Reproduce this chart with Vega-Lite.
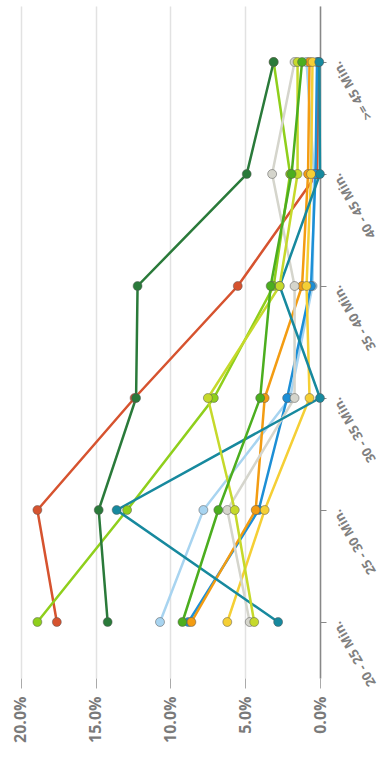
{
  "$schema": "https://vega.github.io/schema/vega-lite/v6.json",
  "width": 320,
  "height": 672,
  "autosize": "none",
  "padding": {"left": 0, "top": 6, "right": 65, "bottom": 88},
  "config": {"view": {"stroke": null}},
  "data": {"values": [
    {"s": "s01", "c": "20 - 25 Min.", "v": 0.176}, {"s": "s01", "c": "25 - 30 Min.", "v": 0.189}, {"s": "s01", "c": "30 - 35 Min.", "v": 0.124}, {"s": "s01", "c": "35 - 40 Min.", "v": 0.055}, {"s": "s01", "c": "40 - 45 Min.", "v": 0.002}, {"s": "s01", "c": ">= 45 Min.", "v": 0.001},
    {"s": "s02", "c": "20 - 25 Min.", "v": 0.189}, {"s": "s02", "c": "25 - 30 Min.", "v": 0.129}, {"s": "s02", "c": "30 - 35 Min.", "v": 0.071}, {"s": "s02", "c": "35 - 40 Min.", "v": 0.031}, {"s": "s02", "c": "40 - 45 Min.", "v": 0.020}, {"s": "s02", "c": ">= 45 Min.", "v": 0.031},
    {"s": "s03", "c": "20 - 25 Min.", "v": 0.107}, {"s": "s03", "c": "25 - 30 Min.", "v": 0.078}, {"s": "s03", "c": "30 - 35 Min.", "v": 0.020}, {"s": "s03", "c": "35 - 40 Min.", "v": 0.005}, {"s": "s03", "c": "40 - 45 Min.", "v": 0.004}, {"s": "s03", "c": ">= 45 Min.", "v": 0.009},
    {"s": "s04", "c": "20 - 25 Min.", "v": 0.088}, {"s": "s04", "c": "25 - 30 Min.", "v": 0.041}, {"s": "s04", "c": "30 - 35 Min.", "v": 0.022}, {"s": "s04", "c": "35 - 40 Min.", "v": 0.006}, {"s": "s04", "c": "40 - 45 Min.", "v": 0.003}, {"s": "s04", "c": ">= 45 Min.", "v": 0.002},
    {"s": "s05", "c": "20 - 25 Min.", "v": 0.086}, {"s": "s05", "c": "25 - 30 Min.", "v": 0.043}, {"s": "s05", "c": "30 - 35 Min.", "v": 0.037}, {"s": "s05", "c": "35 - 40 Min.", "v": 0.012}, {"s": "s05", "c": "40 - 45 Min.", "v": 0.008}, {"s": "s05", "c": ">= 45 Min.", "v": 0.007},
    {"s": "s06", "c": "20 - 25 Min.", "v": 0.062}, {"s": "s06", "c": "25 - 30 Min.", "v": 0.037}, {"s": "s06", "c": "30 - 35 Min.", "v": 0.007}, {"s": "s06", "c": "35 - 40 Min.", "v": 0.009}, {"s": "s06", "c": "40 - 45 Min.", "v": 0.006}, {"s": "s06", "c": ">= 45 Min.", "v": 0.005},
    {"s": "s07", "c": "20 - 25 Min.", "v": 0.047}, {"s": "s07", "c": "25 - 30 Min.", "v": 0.062}, {"s": "s07", "c": "30 - 35 Min.", "v": 0.017}, {"s": "s07", "c": "35 - 40 Min.", "v": 0.017}, {"s": "s07", "c": "40 - 45 Min.", "v": 0.032}, {"s": "s07", "c": ">= 45 Min.", "v": 0.017},
    {"s": "s08", "c": "20 - 25 Min.", "v": 0.028}, {"s": "s08", "c": "25 - 30 Min.", "v": 0.136}, {"s": "s08", "c": "30 - 35 Min.", "v": 0.000}, {"s": "s08", "c": "35 - 40 Min.", "v": 0.027}, {"s": "s08", "c": "40 - 45 Min.", "v": 0.000}, {"s": "s08", "c": ">= 45 Min.", "v": 0.0005},
    {"s": "s09", "c": "20 - 25 Min.", "v": 0.044}, {"s": "s09", "c": "25 - 30 Min.", "v": 0.057}, {"s": "s09", "c": "30 - 35 Min.", "v": 0.075}, {"s": "s09", "c": "35 - 40 Min.", "v": 0.027}, {"s": "s09", "c": "40 - 45 Min.", "v": 0.015}, {"s": "s09", "c": ">= 45 Min.", "v": 0.015},
    {"s": "s10", "c": "20 - 25 Min.", "v": 0.092}, {"s": "s10", "c": "25 - 30 Min.", "v": 0.068}, {"s": "s10", "c": "30 - 35 Min.", "v": 0.040}, {"s": "s10", "c": "35 - 40 Min.", "v": 0.033}, {"s": "s10", "c": "40 - 45 Min.", "v": 0.019}, {"s": "s10", "c": ">= 45 Min.", "v": 0.012},
    {"s": "s11", "c": "20 - 25 Min.", "v": 0.142}, {"s": "s11", "c": "25 - 30 Min.", "v": 0.148}, {"s": "s11", "c": "30 - 35 Min.", "v": 0.123}, {"s": "s11", "c": "35 - 40 Min.", "v": 0.122}, {"s": "s11", "c": "40 - 45 Min.", "v": 0.049}, {"s": "s11", "c": ">= 45 Min.", "v": 0.031}
  ]},
  "encoding": {
    "x": {
      "field": "v", "type": "quantitative",
      "scale": {"domain": [0, 0.214], "reverse": true, "nice": false},
      "axis": {
        "orient": "bottom", "title": null, "values": [0, 0.05, 0.1, 0.15, 0.2], "format": ".1%",
        "labelAngle": 270, "labelAlign": "right", "labelBaseline": "middle",
        "labelFont": "Open Sans", "labelFontSize": 16, "labelFontWeight": "bold", "labelColor": "#7a7a7a",
        "labelPadding": 8, "domain": false, "grid": true, "gridColor": "#e2e2e2", "gridWidth": 1.5,
        "tickColor": "#aaaaaa", "tickSize": 10
      }
    },
    "y": {
      "field": "c", "type": "ordinal",
      "sort": [">= 45 Min.", "40 - 45 Min.", "35 - 40 Min.", "30 - 35 Min.", "25 - 30 Min.", "20 - 25 Min."],
      "scale": {"type": "point", "padding": 0.5},
      "axis": {
        "orient": "right", "title": null, "grid": false,
        "domainColor": "#888888", "domainWidth": 1.5, "tickColor": "#888888", "tickSize": 6,
        "labelAngle": -120, "labelAlign": "right", "labelBaseline": "middle",
        "labelFont": "Open Sans", "labelFontSize": 13, "labelFontWeight": "bold", "labelColor": "#808080",
        "labelPadding": 10
      }
    },
    "color": {
      "field": "s", "type": "nominal", "legend": null,
      "scale": {
        "domain": ["s01", "s02", "s03", "s04", "s05", "s06", "s07", "s08", "s09", "s10", "s11"],
        "range": ["#d6532f", "#8fcf1c", "#a8d4f0", "#1c8fd6", "#f39c12", "#f5cf35", "#d5d5cc", "#17899e", "#c6d92b", "#4cae1f", "#2a7a3a"]
      }
    }
  },
  "layer": [
    {"mark": {"type": "line", "strokeWidth": 2.5}},
    {"mark": {"type": "point", "filled": true, "size": 80, "opacity": 1, "stroke": "#555555", "strokeWidth": 1, "strokeOpacity": 0.5}}
  ]
}
